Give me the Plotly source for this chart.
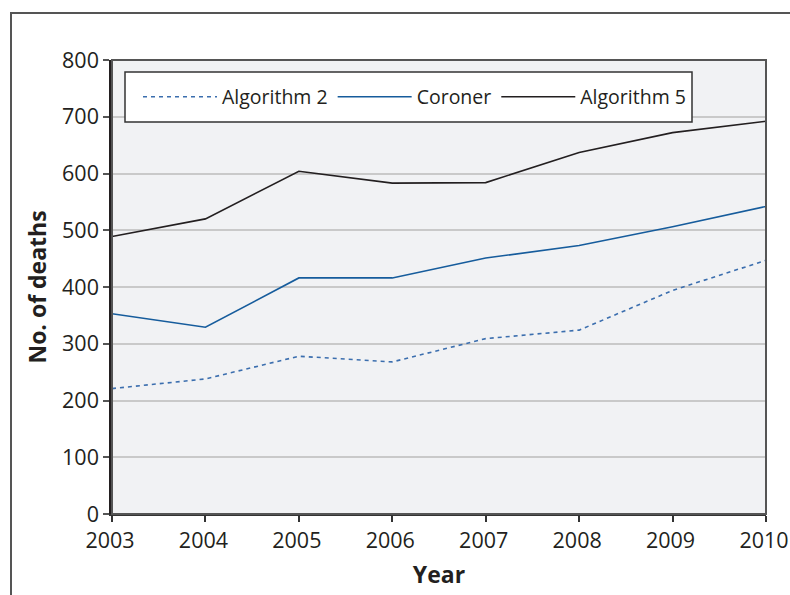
import plotly.graph_objects as go

years = [2003, 2004, 2005, 2006, 2007, 2008, 2009, 2010]
algorithm2 = [221, 238, 278, 268, 309, 324, 394, 447]
coroner = [353, 329, 416, 416, 451, 473, 506, 542]
algorithm5 = [489, 520, 604, 583, 584, 637, 672, 692]
y_ticks = [0, 100, 200, 300, 400, 500, 600, 700, 800]

FONT = "Open Sans"

fig = go.Figure()
fig.add_trace(go.Scatter(x=years, y=algorithm2, mode="lines", name="Algorithm 2",
                         line=dict(color="#3b6eae", width=1.6, dash="4px,4px")))
fig.add_trace(go.Scatter(x=years, y=coroner, mode="lines", name="Coroner",
                         line=dict(color="#165c9c", width=1.6)))
fig.add_trace(go.Scatter(x=years, y=algorithm5, mode="lines", name="Algorithm 5",
                         line=dict(color="#231f20", width=1.6)))

fig.update_layout(
    width=790, height=595,
    margin=dict(l=112, r=24, t=60, b=81, autoexpand=False),
    paper_bgcolor="white",
    plot_bgcolor="#f1f2f4",
    font=dict(family=FONT, color="#231f20"),
    showlegend=True,
    legend=dict(orientation="h", x=(138 - 112) / 654, y=0.9185, xanchor="left", yanchor="middle",
                bgcolor="rgba(0,0,0,0)", borderwidth=0, itemwidth=74,
                font=dict(size=19.5, family=FONT, color="#231f20")),
    xaxis=dict(range=[2003, 2010], tickvals=years, ticktext=[str(y) for y in years],
               showgrid=False, zeroline=False, showline=True, linecolor="#333333",
               linewidth=2, ticks="outside", ticklen=6, tickcolor="#333333", tickwidth=1.5,
               tickfont=dict(size=21.5), automargin=False, ticklabeloverflow="allow",
               ticklabelshift=-2,
               title=dict(text="<b>Year</b>", font=dict(size=23), standoff=14)),
    yaxis=dict(range=[0, 800], tickvals=y_ticks, showgrid=True, gridcolor="#c9c9c9",
               gridwidth=2, zeroline=False, showline=True, linecolor="#231f20",
               linewidth=2.5, ticks="outside", ticklen=6, tickcolor="#555555", tickwidth=1.5,
               tickfont=dict(size=21.5), automargin=False,
               title=dict(text="<b>No. of deaths</b>", font=dict(size=23), standoff=10)),
    shapes=[
        dict(type="rect", xref="paper", yref="paper", x0=0, x1=1, y0=0, y1=1,
             line=dict(color="#555555", width=2), fillcolor="rgba(0,0,0,0)", layer="above"),
        dict(type="rect", xref="paper", yref="paper",
             x0=(125 - 112) / 654, x1=(692 - 112) / 654,
             y0=(514 - 122) / 454, y1=(514 - 72) / 454,
             line=dict(color="#333333", width=1.5), fillcolor="white", layer="above"),
        dict(type="rect", xref="paper", yref="paper",
             x0=(11 - 112) / 654, x1=2, y0=-1, y1=(514 - 13) / 454,
             line=dict(color="#555555", width=2), fillcolor="rgba(0,0,0,0)", layer="below"),
    ],
)

# remove the page's default 8px body margin so the figure fills the window exactly
fig.write_html("out.html",
               config={"displayModeBar": False},
               post_script="document.body.style.margin='0';document.body.style.overflow='hidden';")
